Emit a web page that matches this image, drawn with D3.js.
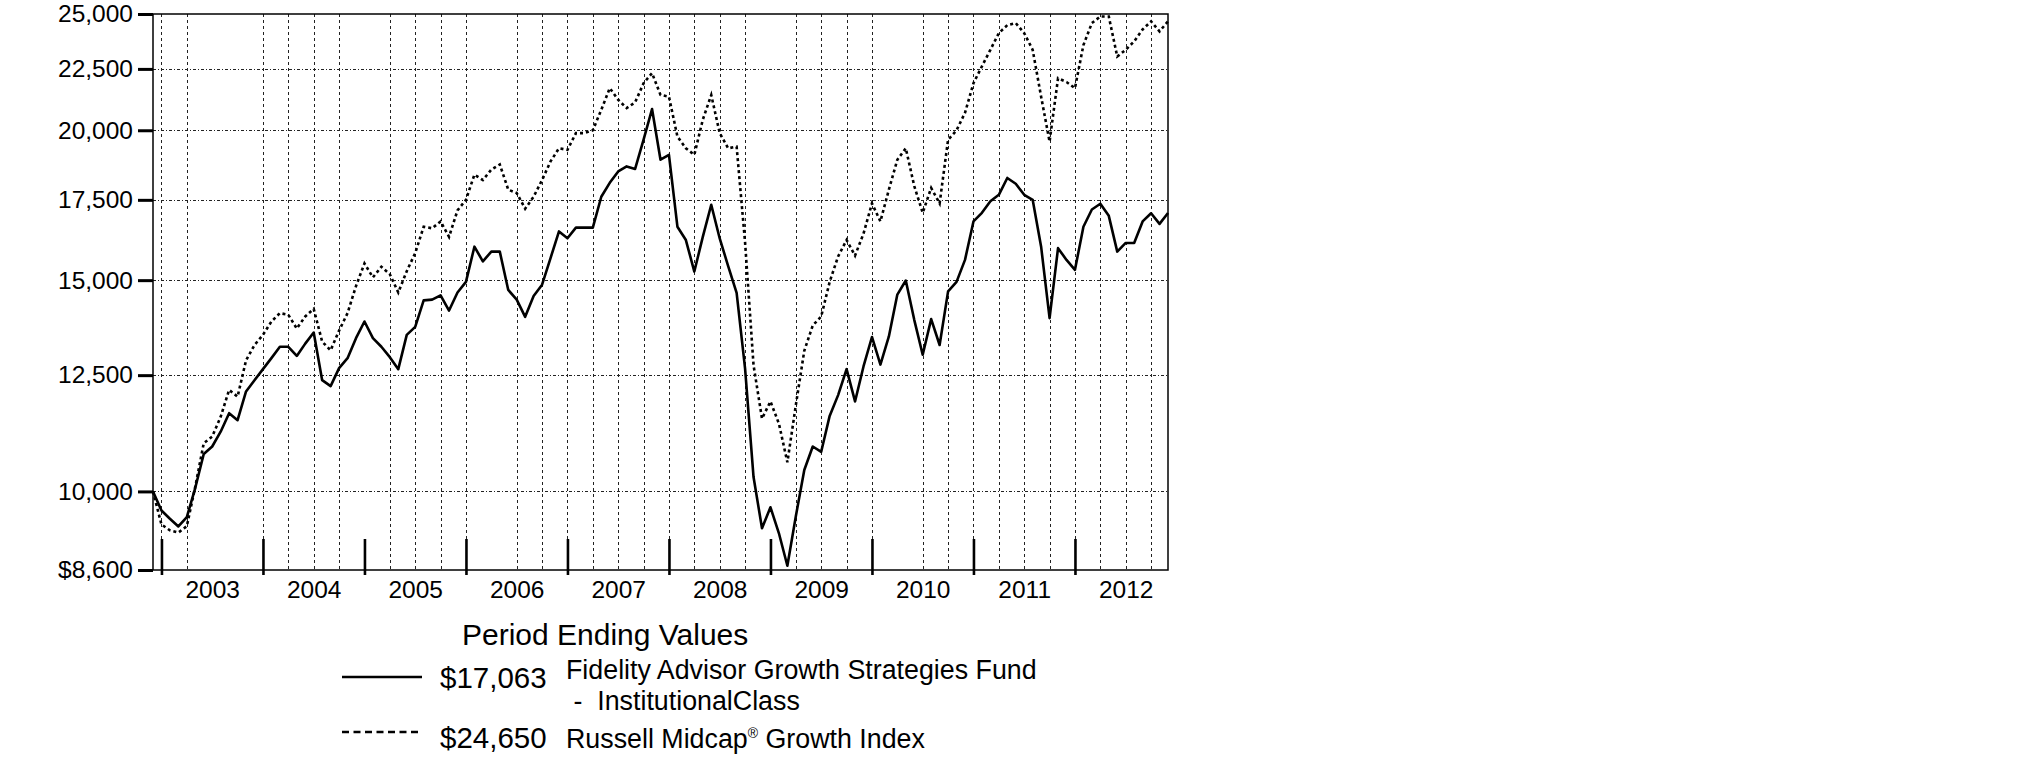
<!DOCTYPE html>
<html><head><meta charset="utf-8">
<script src="https://cdn.jsdelivr.net/npm/d3@7"></script>
<style>
body{margin:0;background:#fff}
svg{display:block}
text{font-family:Arial,"Liberation Sans",sans-serif;fill:#000}
</style>
</head><body>
<svg id="chart" width="2025" height="783"></svg>
<script>
// Month index 0 = Nov 2002 ... 120 = Nov 2012
const fundValues = [
10000,9640,9490,9350,9520,10070,10745,10900,11215,11620,11465,12115,12380,
12645,12915,13200,13200,12970,13280,13565,12380,12240,12670,12915,13420,
13855,13420,13200,12940,12645,13505,13715,14430,14450,14570,14150,14650,
14950,15995,15550,15845,15845,14720,14450,13980,14550,14870,15650,16470,
16255,16590,16590,16590,17605,18080,18480,18660,18570,19640,20830,18900,
19080,16620,16200,15250,16300,17335,16250,15410,14640,12660,10280,9317,
9700,9228,8670,9535,10420,10900,10790,11560,12030,12645,11885,12710,
13450,12755,13465,14590,14990,13900,13000,13920,13245,14680,14950,15595,
16790,17070,17450,17670,18250,18050,17670,17500,15995,13945,15950,15595,
15300,16620,17180,17370,16970,15845,16110,16110,16790,17055,16710,17063
];
const indexValues = [
10000,9385,9280,9240,9355,10095,10970,11110,11540,12150,11995,12860,13245,
13505,13855,14080,14035,13670,13990,14195,13330,13110,13615,14080,14830,
15490,15080,15390,15170,14650,15260,15800,16620,16570,16790,16300,17150,
17500,18365,18180,18545,18730,17845,17730,17205,17605,18180,18840,19320,
19260,19890,19890,20000,20800,21685,21205,20870,21100,21890,22320,21405,
21330,19760,19320,19080,20410,21400,19890,19320,19380,16125,12740,11500,
11885,11390,10575,11800,13100,13750,13990,14950,15700,16200,15725,16400,
17380,16790,17845,18900,19320,17970,17070,17905,17380,19640,20000,20680,
21890,22610,23340,24100,24470,24570,24100,23340,21330,19570,22100,21940,
21685,23550,24570,24880,24880,23040,23340,23720,24270,24650,24180,24650
];
const yTickValues = [8600,10000,12500,15000,17500,20000,22500,25000];
const yGridValues = [10000,12500,15000,17500,20000,22500];
const yearLabels = ["2003","2004","2005","2006","2007","2008","2009","2010","2011","2012"];
const yearTickMonths = [1,13,25,37,49,61,73,85,97,109];
const yearLabelMonths = [7,19,31,43,55,67,79,91,103,115];
const gridMonths = [1,4,13,16,19,22,28,31,34,37,43,46,49,52,55,58,61,64,67,70,76,79,82,85,91,94,97,100,103,106,109,112,115,118];
const legendTitle = "Period Ending Values";
const legendValues = ["$17,063","$24,650"];
const legendNames = [["Fidelity Advisor Growth Strategies Fund"," -  InstitutionalClass"],["Russell Midcap","®"," Growth Index"]];

const L=153,R=1168,T=14,B=570;
const svg = d3.select("#chart");
svg.append("rect").attr("width",2025).attr("height",783).attr("fill","#fff");

const x = d3.scaleLinear().domain([0,120]).range([L,R]);
const y = d3.scaleLog().domain([8600,25000]).range([B,T]);

// grid
const g = svg.append("g");
g.selectAll("line.vg").data(gridMonths).join("line")
  .attr("x1",d=>Math.round(x(d))+0.5).attr("x2",d=>Math.round(x(d))+0.5)
  .attr("y1",T).attr("y2",B)
  .attr("stroke","#222").attr("stroke-width",1).attr("stroke-dasharray","3,3");
g.selectAll("line.hg").data(yGridValues).join("line")
  .attr("x1",L).attr("x2",R)
  .attr("y1",d=>Math.round(y(d))+0.5).attr("y2",d=>Math.round(y(d))+0.5)
  .attr("stroke","#222").attr("stroke-width",1).attr("stroke-dasharray","3,2,1,2");

// lines
const line = d3.line().x((d,i)=>x(i)).y(d=>y(d));
svg.append("path").datum(indexValues).attr("d",line)
  .attr("fill","none").attr("stroke","#000").attr("stroke-width",2.6)
  .attr("stroke-dasharray","3,3");
svg.append("path").datum(fundValues).attr("d",line)
  .attr("fill","none").attr("stroke","#000").attr("stroke-width",2.6)
  .attr("stroke-linejoin","round");

// frame
svg.append("rect").attr("x",L).attr("y",T).attr("width",R-L).attr("height",B-T)
  .attr("fill","none").attr("stroke","#000").attr("stroke-width",1.5);

// y axis
const yAxis = svg.append("g").attr("transform",`translate(${L},0)`)
  .call(d3.axisLeft(y).tickValues(yTickValues).tickSize(15).tickPadding(5)
    .tickFormat(d=>(d===8600?"$":"")+d3.format(",")(d)));
yAxis.select(".domain").remove();
yAxis.selectAll("line").attr("stroke","#000").attr("stroke-width",3);
yAxis.selectAll("text").attr("font-size",24.5).attr("font-family","Arial, 'Liberation Sans', sans-serif").attr("fill","#000");

// x major ticks
const xTicks = svg.append("g").attr("transform",`translate(0,${B})`)
  .call(d3.axisBottom(x).tickValues(yearTickMonths).tickSize(5).tickFormat(""));
xTicks.select(".domain").remove();
xTicks.selectAll("line").attr("y1",-31).attr("y2",5).attr("stroke","#000").attr("stroke-width",2.6);

// year labels
const xLab = svg.append("g").attr("transform",`translate(0,${B})`)
  .call(d3.axisBottom(x).tickValues(yearLabelMonths).tickSize(0).tickPadding(10.5)
    .tickFormat((d,i)=>yearLabels[i]));
xLab.select(".domain").remove();
xLab.selectAll("text").attr("font-size",24.5).attr("font-family","Arial, 'Liberation Sans', sans-serif").attr("fill","#000");

// legend
const lg = svg.append("g");
lg.append("text").attr("x",462).attr("y",645).attr("font-size",30).text(legendTitle);
lg.append("line").attr("x1",342).attr("x2",422).attr("y1",677).attr("y2",677)
  .attr("stroke","#000").attr("stroke-width",2.6);
lg.append("line").attr("x1",342).attr("x2",422).attr("y1",732).attr("y2",732)
  .attr("stroke","#000").attr("stroke-width",2.6).attr("stroke-dasharray","7,4.5");
lg.append("text").attr("x",440).attr("y",688).attr("font-size",29.5).text(legendValues[0]);
lg.append("text").attr("x",440).attr("y",748).attr("font-size",29.5).text(legendValues[1]);
lg.append("text").attr("x",566).attr("y",679).attr("font-size",26.8).text(legendNames[0][0]);
lg.append("text").attr("x",566).attr("y",710).attr("font-size",26.8).attr("xml:space","preserve").text(legendNames[0][1]);
const t3 = lg.append("text").attr("x",566).attr("y",748).attr("font-size",26.8);
t3.append("tspan").text(legendNames[1][0]);
t3.append("tspan").attr("font-size",14).attr("dy",-10).text(legendNames[1][1]);
t3.append("tspan").attr("dy",10).text(legendNames[1][2]);
</script>
</body></html>
